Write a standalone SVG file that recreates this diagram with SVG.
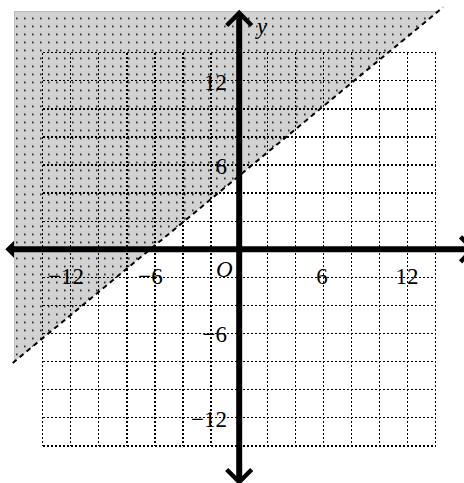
<svg xmlns="http://www.w3.org/2000/svg" width="464" height="483" viewBox="0 0 464 483">
<style>
.grid{fill:none;stroke:#000;stroke-width:1.3;stroke-dasharray:2 2;shape-rendering:crispEdges}
.axis{fill:none;stroke:#000;stroke-width:6}
.head{fill:none;stroke:#000;stroke-width:4.5;stroke-linejoin:miter}
.lbl{font-family:"Liberation Serif","Times New Roman",serif;font-size:23px;fill:#000}
.it{font-style:italic}
</style>
<defs>
<pattern id="dots" patternUnits="userSpaceOnUse" x="16" y="17.6" width="8" height="8">
<rect x="0" y="0" width="1.6" height="1.6" fill="#111"/>
</pattern>
</defs>
<rect width="464" height="483" fill="#fff"/>
<g id="left-arrow-under">
<polyline class="head" points="21,237 8.5,249.3 21,261.6"/>
</g>
<g id="shaded-region">
<polygon points="14,11 438.6,11 14,361.9" fill="#d2d2d2"/>
<polygon points="14,11 438.6,11 14,361.9" fill="url(#dots)"/>
<path d="M14,11.5 H438 M14.5,11 V361" stroke="#bdbdbd" stroke-width="1" fill="none"/>
</g>
<g id="grid">
<path class="grid" d="M42.6,52.7V445.9M70.7,52.7V445.9M98.8,52.7V445.9M126.9,52.7V445.9M155,52.7V445.9M183,52.7V445.9M211.1,52.7V445.9M267.3,52.7V445.9M295.4,52.7V445.9M323.4,52.7V445.9M351.5,52.7V445.9M379.6,52.7V445.9M407.7,52.7V445.9M435.8,52.7V445.9"/>
<path class="grid" d="M42.6,52.7H435.8M42.6,80.8H435.8M42.6,108.9H435.8M42.6,137H435.8M42.6,165.1H435.8M42.6,193.1H435.8M42.6,221.2H435.8M42.6,277.4H435.8M42.6,305.5H435.8M42.6,333.5H435.8M42.6,361.6H435.8M42.6,389.7H435.8M42.6,417.8H435.8M42.6,445.9H435.8"/>
</g>
<g id="boundary-line">
<line x1="12.7" y1="363" x2="443" y2="7.3" stroke="#000" stroke-width="2" stroke-dasharray="5 4"/>
</g>
<g id="axes">
<line class="axis" x1="10" y1="249.3" x2="470" y2="249.3"/>
<line class="axis" x1="239.2" y1="14" x2="239.2" y2="480"/>
<polyline class="head" points="226.7,25.5 239.2,13 251.7,25.5"/>
<polyline class="head" points="226.7,469.5 239.2,482 251.7,469.5"/>
<polyline class="head" points="460.5,236.8 473,249.3 460.5,261.8"/>
</g>
<g id="labels">
<text class="lbl" x="66" y="283.5" text-anchor="middle">−12</text>
<text class="lbl" x="150.5" y="283.5" text-anchor="middle">−6</text>
<text class="lbl" x="322" y="283.5" text-anchor="middle">6</text>
<text class="lbl" x="407" y="283.5" text-anchor="middle">12</text>
<text class="lbl it" x="216" y="277">O</text>
<text class="lbl" x="227" y="90" text-anchor="end">12</text>
<text class="lbl" x="227" y="173.5" text-anchor="end">6</text>
<text class="lbl" x="227" y="341.5" text-anchor="end">−6</text>
<text class="lbl" x="227" y="426.5" text-anchor="end">−12</text>
<text class="lbl it" x="257" y="34">y</text>
</g>
</svg>
